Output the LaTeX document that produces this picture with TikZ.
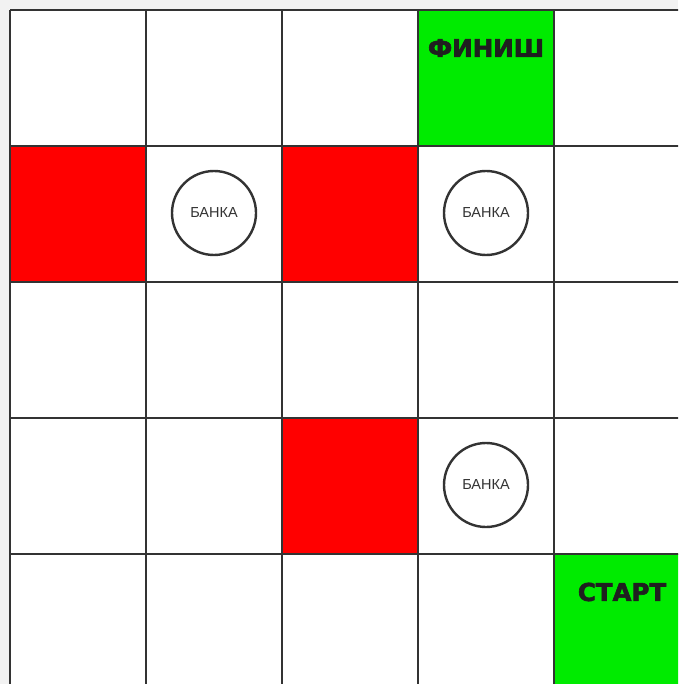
\documentclass[tikz,border=0pt]{standalone}
\usepackage{fontspec}
\setmainfont{Liberation Sans}
\newfontfamily\titelfont[BoldFeatures={FakeBold=2.5}]{DejaVu Sans}
\usetikzlibrary{positioning}
\definecolor{feldrot}{RGB}{255,0,0}
\definecolor{feldgruen}{RGB}{0,235,0}
\definecolor{linie}{RGB}{51,51,51}
\definecolor{rand}{RGB}{242,242,242}

\begin{document}
\begin{tikzpicture}[x=1pt, y=-1pt,
			cell/.style={minimum size=136pt, inner sep=0pt, outer sep=0pt},   %Spielfeld
			gitter/.style={draw=linie, line width=2.6pt},
			bank/.style={circle, draw=linie, line width=2.4pt, minimum size=84pt, inner sep=0pt, text=linie, font=\fontsize{14.5}{14.5}\selectfont},
			titel/.style={text=black!88, font=\titelfont\bfseries\fontsize{24.5}{24.5}\selectfont}]
			% Rahmen
			\useasboundingbox (0,0) rectangle (678,684);
			\fill[rand] (0,0) rectangle (678,684);
			\clip (0,0) rectangle (678,684);
			% Felder
			\foreach \r in {0,...,4}
			\foreach \c in {0,...,4}
			\node[cell] (c-\r-\c) at (78+136*\c, 78+136*\r) {};
			\fill[white] (c-0-0.north west) rectangle (700,700);
			% Farbige Felder
			\foreach \r/\c/\farbe in {1/0/feldrot, 1/2/feldrot, 3/2/feldrot, 0/3/feldgruen, 4/4/feldgruen}
			\fill[\farbe] (c-\r-\c.north west) rectangle (c-\r-\c.south east);
			% Raster zeichnen
			\foreach \i in {0,...,5} {
				\draw[gitter] (10+136*\i, 10) -- (10+136*\i, 700);
				\draw[gitter] (10, 10+136*\i) -- (700, 10+136*\i);
			}
			% Banken
			\node[bank] (bank1) at ([yshift=1pt]c-1-1.center) {БАНКА};
			\node[bank] (bank2) at ([yshift=1pt]c-1-3.center) {БАНКА};
			\node[bank] (bank3) at ([yshift=1pt]c-3-3.center) {БАНКА};
			% Beschriftung
			\node[titel] (finish) at ([yshift=-38pt]c-0-3.north) {ФИНИШ};
			\node[titel] (start) at ([yshift=-38pt]c-4-4.north) {СТАРТ};
		\end{tikzpicture}
\end{document}
